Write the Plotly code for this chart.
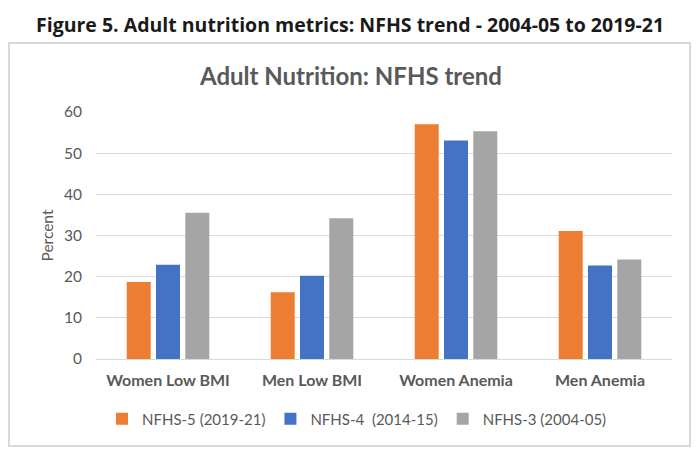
import plotly.graph_objects as go

categories = ["Women Low BMI", "Men Low BMI", "Women Anemia", "Men Anemia"]
series_names = ["NFHS-5 (2019-21)", "NFHS-4  (2014-15)", "NFHS-3 (2004-05)"]
nfhs5 = [18.7, 16.2, 57.0, 31.1]
nfhs4 = [22.9, 20.2, 53.1, 22.7]
nfhs3 = [35.5, 34.2, 55.3, 24.2]
colors = ["#ED7D31", "#4472C4", "#A5A5A5"]
y_ticks = [0, 10, 20, 30, 40, 50, 60]

fig = go.Figure()
for name, vals, col in zip(series_names, [nfhs5, nfhs4, nfhs3], colors):
    fig.add_trace(go.Bar(x=categories, y=vals, name=name, marker=dict(color=col, line=dict(width=0))))

W, H = 700, 455
ml, mr, mt, mb = 88, 36, 104, 104
pw, ph = W - ml - mr, H - mt - mb

def px(x):
    return (x - ml) / pw

def py(y):
    return (H - mb - y) / ph

gray = "#595959"
fig.update_layout(
    width=W, height=H,
    margin=dict(l=ml, r=mr, t=mt, b=mb),
    paper_bgcolor="white", plot_bgcolor="white",
    barmode="group", bargap=0.39, bargroupgap=0.18,
    font=dict(family="Lato", color=gray),
    showlegend=True,
    legend=dict(orientation="h", x=px(94), y=py(411), xanchor="left", yanchor="middle",
                font=dict(family="Lato", size=15, color=gray), itemwidth=30,
                bgcolor="rgba(0,0,0,0)"),
    xaxis=dict(showgrid=False, showline=True, linecolor="#d9d9d9", linewidth=1,
               tickfont=dict(family="Lato", size=16, color=gray, weight="bold"),
               ticks="", ticklabelstandoff=7),
    yaxis=dict(range=[0, 60], tickvals=y_ticks, showgrid=True, gridcolor="#d9d9d9",
               gridwidth=1, zeroline=False, showline=False, ticks="",
               tickfont=dict(family="Lato", size=15.5, color=gray),
               ticklabelstandoff=13,
               title=dict(text="Percent", font=dict(family="Lato", size=15.5, color=gray), standoff=6)),
    shapes=[dict(type="rect", xref="paper", yref="paper",
                 x0=px(1), x1=px(682), y0=py(438), y1=py(35),
                 line=dict(color="#d9d9d9", width=2), fillcolor="rgba(0,0,0,0)", layer="below")],
    annotations=[
        dict(text="<b>Figure 5. Adult nutrition metrics: NFHS trend - 2004-05 to 2019-21</b>",
             xref="paper", yref="paper", x=px(342), y=py(17), xanchor="center", yanchor="middle",
             showarrow=False, font=dict(family="Open Sans", size=19.5, color="#1a1a1a")),
        dict(text="<b>Adult Nutrition: NFHS trend</b>",
             xref="paper", yref="paper", x=px(342), y=py(67), xanchor="center", yanchor="middle",
             showarrow=False, font=dict(family="Lato", size=24, color=gray)),
    ],
)

fig.write_html("out.html")
